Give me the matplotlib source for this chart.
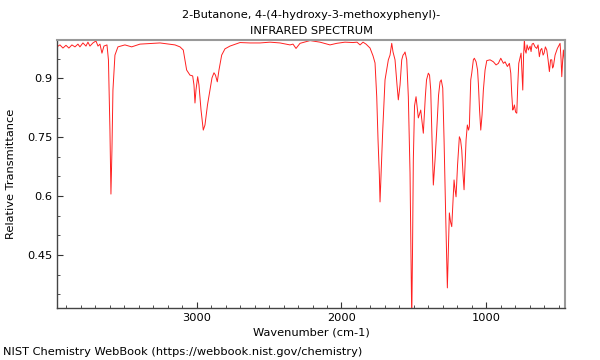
import matplotlib
matplotlib.use("Agg")
import matplotlib.pyplot as plt
from matplotlib.ticker import MultipleLocator, FuncFormatter

title = "2-Butanone, 4-(4-hydroxy-3-methoxyphenyl)-\nINFRARED SPECTRUM"
xlabel = "Wavenumber (cm-1)"
ylabel = "Relative Transmittance"
footer = "NIST Chemistry WebBook (https://webbook.nist.gov/chemistry)"

wavenumber = [
    3964.5, 3943.8, 3923, 3902, 3882, 3861, 3840, 3819.5, 3805.7, 3785, 3764, 3750.4,
    3736.6, 3716, 3695, 3681, 3667.5, 3653.7, 3640, 3619, 3608.9, 3598.5, 3591.6, 3584.7,
    3577.8, 3564, 3543.3, 3495, 3448.6, 3391.3, 3253, 3149.6, 3115, 3092.3, 3069, 3046,
    3027.4, 3018.4, 3011.5, 3004.6, 2992.9, 2984, 2970, 2954.2, 2942.5, 2925.2, 2908, 2894,
    2880.3, 2870, 2857.5, 2845.8, 2827.2, 2804.3, 2770, 2700.8, 2631.7, 2562.6, 2493.6,
    2424.5, 2355.5, 2334.7, 2314, 2286.4, 2217.4, 2148.3, 2079.4, 2033, 1975.8, 1920.5,
    1893, 1872, 1851.3, 1830.6, 1803, 1782.3, 1768.5, 1756.8, 1747.8, 1738.8, 1734, 1727,
    1715.3, 1699.5, 1676.6, 1665, 1653.2, 1644.3, 1630.5, 1616.7, 1607.7, 1595.9, 1584.2,
    1575.2, 1568.3, 1561.4, 1549.7, 1538.6, 1526.9, 1520, 1515.1, 1509.6, 1504.1, 1495.8,
    1485.4, 1469.6, 1453, 1435.1, 1421.3, 1413, 1400.5, 1392.2, 1384, 1375, 1366, 1354.2,
    1342.5, 1330, 1319.6, 1311.4, 1301, 1292, 1281.6, 1269.2, 1262.3, 1255.4, 1247.1,
    1238.9, 1229.9, 1223, 1216, 1209.2, 1198.8, 1186.3, 1178, 1169.8, 1160.8, 1153.9, 1147,
    1140, 1131.2, 1122.9, 1117.4, 1107.7, 1100.8, 1089.7, 1082.8, 1071, 1060.7, 1055.2,
    1046.9, 1038.6, 1029.6, 1020.6, 1008.9, 997.1, 974.3, 951.5, 932.9, 917, 900.4, 882.4,
    870.8, 854.9, 841, 831.4, 824.5, 817.6, 812, 806.5, 798.3, 790, 783.1, 776.2, 760.3,
    748.6, 743, 737.5, 732.7, 725.8, 718.9, 709.9, 698.2, 691.3, 684.4, 675.4, 663.7, 652,
    643, 634, 625.7, 617.4, 608.4, 601.5, 592.5, 582.9, 573.9, 564.9, 556.6, 548.4, 542.9,
    537.3, 525.6, 509.7, 501.4, 491.1, 484.1, 479.3, 473.8, 468.3, 461.4, 456.6,
]
transmittance = [
    0.980, 0.985, 0.977, 0.984, 0.977, 0.985, 0.980, 0.987, 0.980, 0.990, 0.982, 0.992,
    0.982, 0.990, 0.995, 0.982, 0.987, 0.964, 0.982, 0.985, 0.947, 0.768, 0.605, 0.717,
    0.870, 0.959, 0.980, 0.985, 0.980, 0.987, 0.990, 0.985, 0.980, 0.972, 0.921, 0.908,
    0.906, 0.883, 0.837, 0.870, 0.904, 0.883, 0.820, 0.768, 0.781, 0.832, 0.870, 0.901,
    0.914, 0.908, 0.891, 0.921, 0.959, 0.975, 0.982, 0.991, 0.990, 0.990, 0.992,
    0.990, 0.985, 0.987, 0.976, 0.989, 0.996, 0.992, 0.985, 0.989, 0.992, 0.991,
    0.992, 0.985, 0.992, 0.987, 0.977, 0.957, 0.939, 0.853, 0.743, 0.654, 0.585, 0.654,
    0.768, 0.896, 0.947, 0.959, 0.989, 0.967, 0.947, 0.883, 0.845, 0.883, 0.947,
    0.959, 0.962, 0.967, 0.947, 0.853, 0.659, 0.437, 0.284, 0.463, 0.692, 0.830,
    0.853, 0.799, 0.819, 0.760, 0.853, 0.896, 0.913, 0.908, 0.870, 0.743, 0.628, 0.692,
    0.768, 0.857, 0.891, 0.896, 0.875, 0.743, 0.565, 0.366, 0.463, 0.557, 0.534,
    0.522, 0.590, 0.641, 0.616, 0.598, 0.679, 0.751, 0.743, 0.717, 0.654, 0.616, 0.679,
    0.743, 0.781, 0.768, 0.777, 0.896, 0.913, 0.947, 0.951, 0.942, 0.921, 0.887,
    0.819, 0.768, 0.807, 0.870, 0.921, 0.945, 0.947, 0.942, 0.934, 0.938, 0.951, 0.938,
    0.942, 0.930, 0.938, 0.913, 0.858, 0.819, 0.824, 0.832, 0.814, 0.811, 0.883, 0.938, 0.964,
    0.870, 0.959, 0.998, 0.972, 0.964, 0.985, 0.972, 0.982, 0.968, 0.987, 0.989, 0.980, 0.976,
    0.985, 0.955, 0.972, 0.976, 0.959, 0.964, 0.980, 0.972, 0.947, 0.917, 0.947, 0.947, 0.926,
    0.930, 0.959, 0.976, 0.982, 0.989, 0.947, 0.904, 0.942, 0.972, 0.947, 0.891,
]

fs = 8.2
fig = plt.figure(figsize=(6, 3.6), dpi=100)
ax = fig.add_axes([57 / 600, 1 - 308.3 / 360, (565.3 - 57) / 600, (308.3 - 40) / 360])
ax.plot(wavenumber, transmittance, color="#ff2020", lw=0.7)
ax.set_xlim(3964, 455)
ax.set_ylim(0.314, 0.9975)

ax.xaxis.set_major_locator(MultipleLocator(1000))
ax.xaxis.set_minor_locator(MultipleLocator(100))
ax.yaxis.set_major_locator(MultipleLocator(0.15))
ax.yaxis.set_minor_locator(MultipleLocator(0.05))
ax.yaxis.set_major_formatter(FuncFormatter(lambda v, p: "%g" % round(v, 2)))
ax.xaxis.set_major_formatter(FuncFormatter(lambda v, p: "%d" % round(v)))
ax.tick_params(which="both", direction="in", labelsize=fs, colors="#333333", labelcolor="black")
ax.tick_params(which="major", length=4)
ax.tick_params(which="minor", length=2)

for s in ["left", "bottom"]:
    ax.spines[s].set_color("#444444")
    ax.spines[s].set_linewidth(1)
for s in ["top", "right"]:
    ax.spines[s].set_color("#999999")
    ax.spines[s].set_linewidth(1.5)

ax.set_title(title, fontsize=fs, pad=4, linespacing=1.75)
ax.set_xlabel(xlabel, fontsize=fs, labelpad=3)
ax.set_ylabel(ylabel, fontsize=fs, labelpad=8)
fig.text(3 / 600, 1 - 352 / 360, footer, fontsize=fs, ha="left", va="center")

fig.savefig("out.png", dpi=100)
